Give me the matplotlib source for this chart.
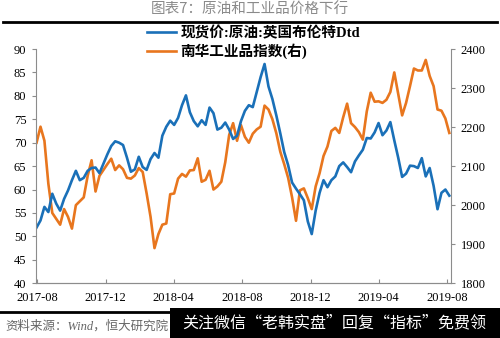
import pandas as pd
import matplotlib
matplotlib.use("Agg")
import matplotlib.pyplot as plt
import matplotlib.dates as mdates

plt.rcParams['font.family'] = ['Liberation Serif', 'Noto Sans CJK SC', 'DejaVu Sans']

# weekly series
dates = pd.date_range("2017-07-31", periods=106, freq="7D")

brent = [51.9, 53.4, 56.3, 55.2, 59.1, 57.0, 55.5, 58.0, 59.8, 62.0,
         64.0, 62.0, 62.5, 64.0, 64.6, 64.7, 63.5, 65.5, 67.5, 69.3,
         70.3, 70.0, 69.5, 66.8, 63.8, 64.3, 67.0, 64.8, 64.2, 66.5,
         67.8, 66.8, 71.5, 73.4, 74.7, 73.8, 75.3, 78.0, 80.1, 76.5,
         74.6, 73.5, 74.8, 73.8, 77.5, 76.3, 72.8, 73.2, 74.3, 72.8,
         70.8, 71.5, 74.6, 76.8, 78.0, 77.6, 80.8, 84.0, 86.8, 82.0,
         79.3, 75.8, 72.0, 68.0, 65.2, 61.5, 60.2, 59.0, 57.7, 53.2,
         50.5, 55.5, 59.3, 62.0, 60.5, 62.0, 62.8, 65.0, 65.8, 64.8,
         63.7, 66.0, 67.3, 68.5, 71.0, 70.9, 72.2, 74.2, 71.6, 72.6,
         74.4, 70.5, 66.8, 62.7, 63.4, 65.1, 65.0, 64.6, 66.7, 62.8,
         64.6, 60.8, 55.8, 59.3, 60.0, 58.7]

nanhua = [2160, 2201, 2165, 2055, 1980, 1965, 1950, 1990, 1970, 1940,
          2000, 2010, 2020, 2075, 2115, 2035, 2075, 2090, 2105, 2119,
          2090, 2102, 2092, 2070, 2068, 2076, 2095, 2085, 2030, 1970,
          1890, 1926, 1950, 1953, 2028, 2030, 2068, 2080, 2073, 2089,
          2090, 2120, 2060, 2065, 2088, 2040, 2048, 2060, 2110, 2180,
          2210, 2165, 2205, 2175, 2160, 2183, 2194, 2201, 2255, 2245,
          2220, 2184, 2137, 2105, 2070, 2020, 1960, 2038, 2043, 2018,
          1990, 2048, 2082, 2126, 2150, 2190, 2198, 2185, 2225, 2260,
          2210, 2200, 2187, 2168, 2240, 2288, 2265, 2266, 2262, 2270,
          2290, 2340, 2285, 2230, 2262, 2305, 2350, 2345, 2345, 2372,
          2331, 2305, 2245, 2242, 2222, 2185]

xticks = pd.to_datetime(["2017-08-01", "2017-12-01", "2018-04-01", "2018-08-01",
                         "2018-12-01", "2019-04-01", "2019-08-01"])

blue = "#1a70b8"
orange = "#e8761e"
grey = "#8c8c8c"

fig = plt.figure(figsize=(5, 3.38), dpi=100)
ax = fig.add_axes([0.072, 0.162, 0.83, 0.693])
ax2 = ax.twinx()

l1, = ax.plot(dates, brent, color=blue, lw=1.9, label="现货价:原油:英国布伦特Dtd")
l2, = ax2.plot(dates, nanhua, color=orange, lw=1.9, label="南华工业品指数(右)")
ax.set_zorder(ax2.get_zorder() + 1)
ax.patch.set_visible(False)

ax.set_ylim(40, 90)
ax.set_yticks(range(40, 91, 5))
ax2.set_ylim(1800, 2400)
ax2.set_yticks(range(1800, 2401, 100))
ax.set_xlim(pd.Timestamp("2017-07-30"), pd.Timestamp("2019-08-08"))
ax.set_xticks(xticks)
ax.xaxis.set_major_formatter(mdates.DateFormatter("%Y-%m"))

for a in (ax, ax2):
    for s in a.spines.values():
        s.set_color(grey)
        s.set_linewidth(0.8)
    a.spines['top'].set_visible(False)
ax.spines['right'].set_visible(False)
ax2.spines['left'].set_visible(False)

ax.tick_params(axis='y', direction='out', length=3, color=grey, labelsize=9, pad=4)
ax.tick_params(axis='x', direction='in', length=3, color=grey, labelsize=9, pad=6)
ax2.tick_params(axis='y', direction='out', length=3, color=grey, labelsize=9, pad=4)

leg = fig.legend([l1, l2], [l1.get_label(), l2.get_label()],
                 loc='upper left', bbox_to_anchor=(0.282, 0.94), frameon=False,
                 prop={'size': 10.5, 'weight': 'bold'}, handlelength=2.0,
                 handletextpad=0.3, labelspacing=0.2, borderaxespad=0)

fig.text(0.5, 0.97, "图表7：原油和工业品价格下行", ha='center', va='center',
         fontsize=10.5, color="#8a8a8a", family=['Noto Sans CJK SC', 'DejaVu Sans'])
fig.add_artist(plt.Line2D([0.006, 0.994], [0.935, 0.935], color='black', lw=2))
fig.add_artist(plt.Line2D([0.0, 0.34], [0.077, 0.077], color='black', lw=2))
fig.text(0.01, 0.035, "资料来源：Wind，恒大研究院", ha='left', va='center',
         fontsize=9, color="#666666", style='italic')

# overlay banner at bottom right
fig.patches.append(plt.Rectangle((0.34, 0.0), 0.66, 0.09, transform=fig.transFigure,
                                 facecolor='black', edgecolor='none', zorder=5))
fig.text(0.668, 0.045, "关注微信“老韩实盘”回复“指标”免费领", ha='center', va='center',
         fontsize=11.5, color='white', zorder=6,
         family=['Noto Sans CJK SC', 'DejaVu Sans'])

fig.savefig("out.png", dpi=100)
